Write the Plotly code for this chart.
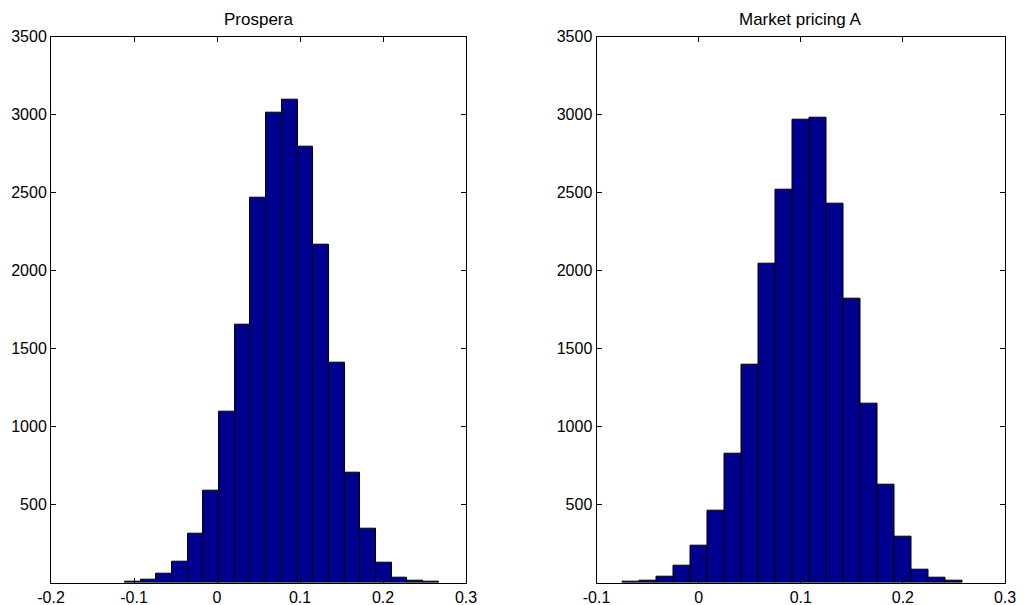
import plotly.graph_objects as go

# ---- data ----
prospera_centers = [-0.1016, -0.0827, -0.0638, -0.0449, -0.0259, -0.0070, 0.0119, 0.0308,
                    0.0497, 0.0686, 0.0876, 0.1065, 0.1254, 0.1443, 0.1632, 0.1821,
                    0.2011, 0.2200, 0.2389, 0.2578]
prospera_counts = [6, 17, 58, 134, 311, 591, 1094, 1653, 2471, 3015, 3098, 2792,
                   2164, 1411, 707, 349, 128, 30, 13, 4]
prospera_width = 0.01892

market_centers = [-0.0663, -0.0497, -0.0331, -0.0164, 0.0002, 0.0168, 0.0335, 0.0501,
                  0.0667, 0.0834, 0.1000, 0.1166, 0.1333, 0.1499, 0.1665, 0.1832,
                  0.1998, 0.2164, 0.2331, 0.2497]
market_counts = [4, 10, 37, 107, 240, 459, 829, 1396, 2045, 2521, 2971, 2984,
                 2430, 1820, 1146, 630, 295, 86, 30, 11]
market_width = 0.01663

titles = ["Prospera", "Market pricing A"]
left_xticks = [-0.2, -0.1, 0, 0.1, 0.2, 0.3]
left_xticktext = ["-0.2", "-0.1", "0", "0.1", "0.2", "0.3"]
right_xticks = [-0.1, 0, 0.1, 0.2, 0.3]
right_xticktext = ["-0.1", "0", "0.1", "0.2", "0.3"]
yticks = [500, 1000, 1500, 2000, 2500, 3000, 3500]
yticktext = ["500", "1000", "1500", "2000", "2500", "3000", "3500"]

FONT = "Liberation Sans, Arial, sans-serif"
BAR_COLOR = "rgb(0,0,143)"

fig = go.Figure()
fig.add_trace(go.Bar(x=prospera_centers, y=prospera_counts,
                     width=[prospera_width] * len(prospera_centers),
                     marker=dict(color=BAR_COLOR, line=dict(color="black", width=1)),
                     xaxis="x", yaxis="y", showlegend=False))
fig.add_trace(go.Bar(x=market_centers, y=market_counts,
                     width=[market_width] * len(market_centers),
                     marker=dict(color=BAR_COLOR, line=dict(color="black", width=1)),
                     xaxis="x2", yaxis="y2", showlegend=False))

axis_common = dict(showgrid=False, zeroline=False, showline=True, linecolor="black",
                   linewidth=1, mirror="ticks", ticks="inside", ticklen=5,
                   tickcolor="black", automargin=False,
                   tickfont=dict(family=FONT, size=16, color="black"))

left_dom = [51 / 1028, 466 / 1028]
right_dom = [596.5 / 1028, 1005 / 1028]
y_dom = [22.3 / 605, 568.3 / 605]

fig.update_layout(
    template="none",
    width=1028, height=605,
    margin=dict(l=0, r=0, t=0, b=0, autoexpand=False),
    paper_bgcolor="white", plot_bgcolor="white",
    bargap=0,
    xaxis=dict(domain=left_dom, range=[-0.2, 0.3], tickvals=left_xticks,
               ticktext=left_xticktext, anchor="y", **axis_common),
    yaxis=dict(domain=y_dom, range=[0, 3500], tickvals=yticks, ticktext=yticktext,
               anchor="x", **axis_common),
    xaxis2=dict(domain=right_dom, range=[-0.1, 0.3], tickvals=right_xticks,
                ticktext=right_xticktext, anchor="y2", **axis_common),
    yaxis2=dict(domain=y_dom, range=[0, 3500], tickvals=yticks, ticktext=yticktext,
                anchor="x2", **axis_common),
)

for dom, t in zip([left_dom, right_dom], titles):
    fig.add_annotation(text=t, x=(dom[0] + dom[1]) / 2, y=y_dom[1], xref="paper",
                       yref="paper", xanchor="center", yanchor="bottom", yshift=6,
                       showarrow=False, font=dict(family=FONT, size=17, color="black"))

fig.write_html("out.html", config={"displayModeBar": False},
               post_script="document.body.style.margin='0';"
                           "document.body.style.overflow='hidden';")
